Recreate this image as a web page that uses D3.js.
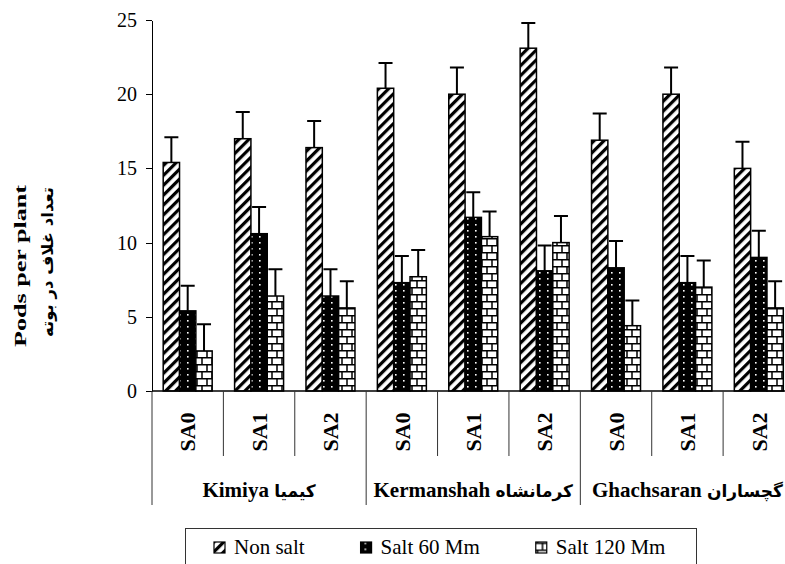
<!DOCTYPE html>
<html>
<head>
<meta charset="utf-8">
</head>
<body style="margin:0; background:#fff;">
<svg width="785" height="564"></svg>
<script src="https://d3js.org/d3.v7.min.js"></script>
<script>

// groups (cultivars): latin name + persian name, SA treatments and salt levels
var groupNames = ["Kimiya", "Kermanshah", "Ghachsaran"];
var groupNamesFa = ["کیمیا", "کرمانشاه", "گچساران"];
var treatments = ["SA0", "SA1", "SA2"];
var seriesNames = ["Non salt", "Salt 60 Mm", "Salt 120 Mm"];

// one value per category, in order Kimiya SA0..SA2, Kermanshah SA0..SA2, Ghachsaran SA0..SA2
var nonSalt = [15.4, 17.0, 16.4, 20.4, 20.0, 23.1, 16.9, 20.0, 15.0];
var salt60  = [5.4, 10.6, 6.4, 7.3, 11.7, 8.1, 8.3, 7.3, 9.0];
var salt120 = [2.7, 6.4, 5.6, 7.7, 10.4, 10.0, 4.4, 7.0, 5.6];

// error bars (upper half only)
var nonSaltErr = [1.7, 1.8, 1.8, 1.7, 1.8, 1.7, 1.8, 1.8, 1.8];
var salt60Err  = [1.7, 1.8, 1.8, 1.8, 1.7, 1.7, 1.8, 1.8, 1.8];
var salt120Err = [1.8, 1.8, 1.8, 1.8, 1.7, 1.8, 1.7, 1.8, 1.8];

var yTicks = [0, 5, 10, 15, 20, 25];

var seriesValues = [nonSalt, salt60, salt120];
var seriesErrors = [nonSaltErr, salt60Err, salt120Err];

var latinFont = "Liberation Serif";
var faFont = "DejaVu Sans";

var categories = [];
groupNames.forEach(function(g, gi){
    treatments.forEach(function(t){
        categories.push({key: gi + "-" + t, group: gi, label: t});
    });
});

var bars = [];
categories.forEach(function(c, i){
    seriesValues.forEach(function(vals, s){
        bars.push({key: c.key, series: s, value: vals[i], err: seriesErrors[s][i]});
    });
});

var svg = d3.select("svg");

var y = d3.scaleLinear()
    .domain([0, 25])
    .range([391, 20]);

var x0 = d3.scaleBand()
    .domain(categories.map(function(d){ return d.key; }))
    .range([152, 794.5]);

var x1 = d3.scaleBand()
    .domain([0, 1, 2])
    .range([0, x0.bandwidth()])
    .paddingOuter(0.686);

// fill patterns
var defs = svg.append("defs");

var p0 = defs.append("pattern")
    .attr("id", "pat0")
    .attr("patternUnits", "userSpaceOnUse")
    .attr("width", 7).attr("height", 7)
    .attr("patternTransform", "rotate(45)");
p0.append("rect").attr("width", 7).attr("height", 7).attr("fill", "#fff");
p0.append("rect").attr("width", 3.2).attr("height", 7).attr("fill", "#000");

var p1 = defs.append("pattern")
    .attr("id", "pat1")
    .attr("patternUnits", "userSpaceOnUse")
    .attr("width", 8).attr("height", 6);
p1.append("rect").attr("width", 8).attr("height", 6).attr("fill", "#000");
p1.append("rect").attr("x", 3).attr("y", 2).attr("width", 1.6).attr("height", 1.6).attr("fill", "#fff");

var p2 = defs.append("pattern")
    .attr("id", "pat2")
    .attr("patternUnits", "userSpaceOnUse")
    .attr("width", 10).attr("height", 14);
p2.append("rect").attr("width", 10).attr("height", 14).attr("fill", "#fff");
p2.append("path")
    .attr("d", "M0,0.75H10M0,7.75H10M7,0V7M2,7V14")
    .attr("stroke", "#000").attr("stroke-width", 1.5).attr("fill", "none");

// y axis
var yAxis = svg.append("g")
    .attr("transform", "translate(152,0)")
    .call(d3.axisLeft(y).tickValues(yTicks).tickSize(6).tickSizeOuter(0).tickPadding(9));
yAxis.attr("font-family", latinFont).attr("font-size", 20);
yAxis.selectAll("path, line").attr("stroke", "#000").attr("shape-rendering", "crispEdges");
yAxis.selectAll("text")
    .attr("fill", "#000")
    .style("font-family", latinFont)
    .style("font-size", "20px");

// bars
svg.append("g").selectAll("rect")
    .data(bars)
    .enter()
    .append("rect")
    .attr("x", function(d){ return x0(d.key) + x1(d.series); })
    .attr("y", function(d){ return y(d.value); })
    .attr("width", x1.bandwidth())
    .attr("height", function(d){ return y(0) - y(d.value); })
    .attr("fill", function(d){ return "url(#pat" + d.series + ")"; })
    .attr("stroke", "#000")
    .attr("stroke-width", 1.5);

// error bars
svg.append("g").attr("stroke", "#000").attr("stroke-width", 2)
    .selectAll("path")
    .data(bars)
    .enter()
    .append("path")
    .attr("fill", "none")
    .attr("d", function(d){
        var cx = x0(d.key) + x1(d.series) + x1.bandwidth() / 2;
        var top = y(d.value + d.err);
        return "M" + cx + "," + y(d.value) + "V" + top + "M" + (cx - 7) + "," + top + "H" + (cx + 7);
    });

// x axis line and category table
svg.append("line")
    .attr("x1", x0.range()[0]).attr("x2", x0.range()[1])
    .attr("y1", y(0)).attr("y2", y(0))
    .attr("stroke", "#000").attr("stroke-width", 1.5);

svg.append("g").selectAll("line")
    .data(d3.range(categories.length + 1))
    .enter()
    .append("line")
    .attr("x1", function(i){ return x0.range()[0] + i * x0.step(); })
    .attr("x2", function(i){ return x0.range()[0] + i * x0.step(); })
    .attr("y1", y(0))
    .attr("y2", function(i){ return i % 3 == 0 ? 505 : 456; })
    .attr("stroke", "#333").attr("stroke-width", 1);

svg.append("g").selectAll("text")
    .data(categories)
    .enter()
    .append("text")
    .attr("transform", function(d){
        return "translate(" + (x0(d.key) + x0.bandwidth() / 2) + ",432) rotate(-90)";
    })
    .attr("text-anchor", "middle")
    .attr("dy", "0.35em")
    .style("font-family", latinFont)
    .style("font-size", "22px")
    .style("font-weight", "bold")
    .text(function(d){ return d.label; });

// group labels: latin part then persian part
var gl = svg.append("g").selectAll("text")
    .data(groupNames)
    .enter()
    .append("text")
    .attr("x", function(d, i){ return x0(categories[i * 3 + 1].key) + x0.bandwidth() / 2; })
    .attr("y", 497)
    .attr("text-anchor", "middle")
    .style("font-family", latinFont)
    .style("font-weight", "bold");
gl.append("tspan")
    .style("font-family", latinFont)
    .style("font-size", "21px")
    .style("font-weight", "bold")
    .text(function(d){ return d + " "; });
gl.append("tspan")
    .style("font-family", faFont)
    .style("font-size", "17px")
    .style("font-weight", "bold")
    .text(function(d, i){ return groupNamesFa[i]; });

// y title (two lines)
svg.append("text")
    .attr("transform", "translate(20,266) rotate(-90)")
    .attr("text-anchor", "middle")
    .attr("dy", "0.35em")
    .style("font-family", latinFont)
    .style("font-size", "17px")
    .style("font-weight", "bold")
    .attr("textLength", 162)
    .attr("lengthAdjust", "spacingAndGlyphs")
    .text("Pods per plant");

svg.append("text")
    .attr("transform", "translate(47,262) rotate(-90)")
    .attr("text-anchor", "middle")
    .attr("dy", "0.35em")
    .style("font-family", faFont)
    .style("font-size", "16px")
    .style("font-weight", "bold")
    .attr("textLength", 150)
    .attr("lengthAdjust", "spacingAndGlyphs")
    .text("تعداد غلاف در بوته");

// legend
var legend = svg.append("g").attr("transform", "translate(185.5,528.5)");
legend.append("rect")
    .attr("width", 511).attr("height", 60)
    .attr("fill", "#fff").attr("stroke", "#333").attr("stroke-width", 1);

var lx = 28.5;
seriesNames.forEach(function(name, s){
    legend.append("rect")
        .attr("x", lx).attr("y", 13.5)
        .attr("width", 11).attr("height", 11)
        .attr("fill", "url(#pat" + s + ")")
        .attr("stroke", "#000").attr("stroke-width", 1.2);
    var t = legend.append("text")
        .attr("x", lx + 20).attr("y", 25.5)
        .style("font-family", latinFont)
        .style("font-size", "21px")
        .text(name);
    lx += 20 + t.node().getComputedTextLength() + 56;
});

</script>
</body>
</html>
